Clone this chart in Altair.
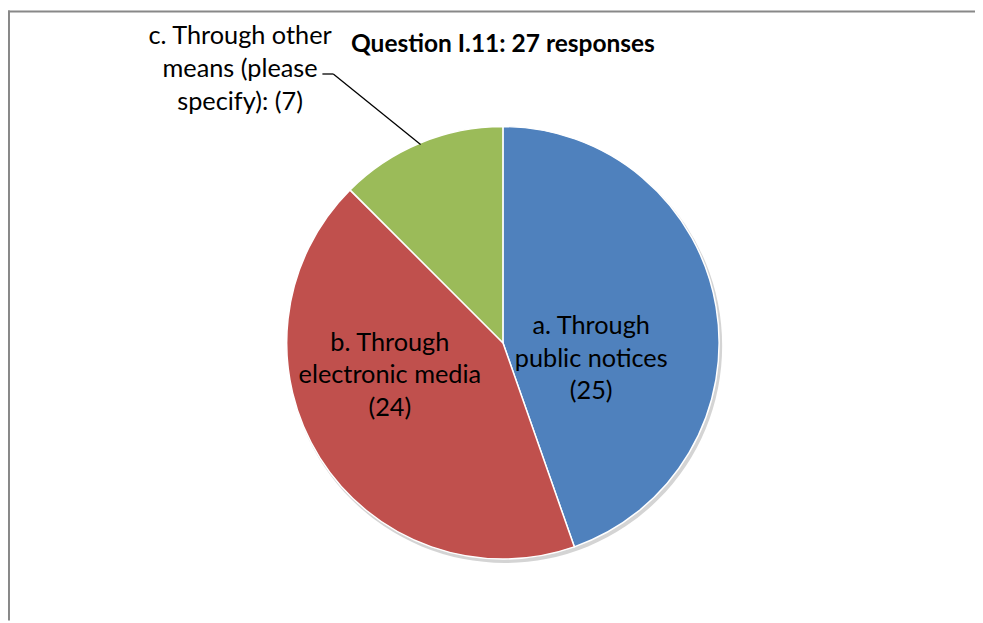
import altair as alt
import pandas as pd

categories = ["a. Through public notices", "b. Through electronic media", "c. Through other means (please specify)"]
values = [25, 24, 7]
colors = ["#4F81BD", "#C0504D", "#9BBB59"]
label_lines = [
    ["a. Through", "public notices", "(25)"],
    ["b. Through", "electronic media", "(24)"],
    ["c. Through other", "means (please", "specify): (7)"],
]
title_text = "Question I.11: 27 responses"

df = pd.DataFrame({
    "category": categories,
    "value": values,
    "idx": list(range(len(categories))),
})

FONT = "Lato"
DX = 4
CX, CY, R = 495 + DX, 335, 218

one = alt.Data(values=[{"k": 1}])

shadow = alt.Chart(one).mark_arc(color="#b0b0b0", opacity=0.55).encode(
    theta=alt.value(6.2832), x=alt.value(CX + 2), y=alt.value(CY + 3),
    radius=alt.value(R + 1),
)

pie = alt.Chart(df).mark_arc(stroke="white", strokeWidth=1.5).encode(
    theta=alt.Theta("value:Q", stack=True),
    order=alt.Order("idx:Q"),
    color=alt.Color("category:N", scale=alt.Scale(domain=categories, range=colors), legend=None),
    x=alt.value(CX), y=alt.value(CY), radius=alt.value(R),
)

def label(i, x, y):
    return alt.Chart(one).mark_text(
        font=FONT, fontSize=25.5, color="black", align="center", baseline="middle",
        lineHeight=33,
    ).encode(text=alt.value(label_lines[i]), x=alt.value(x + DX), y=alt.value(y))

lab_a = label(0, 584, 318)
lab_b = label(1, 381, 335)
lab_c = label(2, 230, 26)

title = alt.Chart(one).mark_text(
    font=FONT, fontSize=24.7, fontWeight="bold", color="black", align="center", baseline="middle"
).encode(text=alt.value(title_text), x=alt.value(495 + DX), y=alt.value(35))

lead1 = alt.Chart(one).mark_rule(color="black", strokeWidth=1.3).encode(
    x=alt.value(313 + DX), x2=alt.value(324 + DX), y=alt.value(64), y2=alt.value(64))
lead2 = alt.Chart(one).mark_rule(color="black", strokeWidth=1.3).encode(
    x=alt.value(324 + DX), x2=alt.value(412 + DX), y=alt.value(64), y2=alt.value(135))

frame_top = alt.Chart(one).mark_rule(color="#888888", strokeWidth=2).encode(
    x=alt.value(0), x2=alt.value(975), y=alt.value(1), y2=alt.value(1))
frame_left = alt.Chart(one).mark_rule(color="#888888", strokeWidth=2).encode(
    x=alt.value(1), x2=alt.value(1), y=alt.value(0), y2=alt.value(615))

chart = alt.layer(
    frame_top, frame_left, shadow, pie, lab_a, lab_b, lab_c, title, lead1, lead2
).properties(
    width=975, height=615, padding=0,
    autosize=alt.AutoSizeParams(type="none"),
    background="white",
).configure_view(stroke=None)

chart.save("out.html", embed_options={"renderer": "svg", "actions": False})
